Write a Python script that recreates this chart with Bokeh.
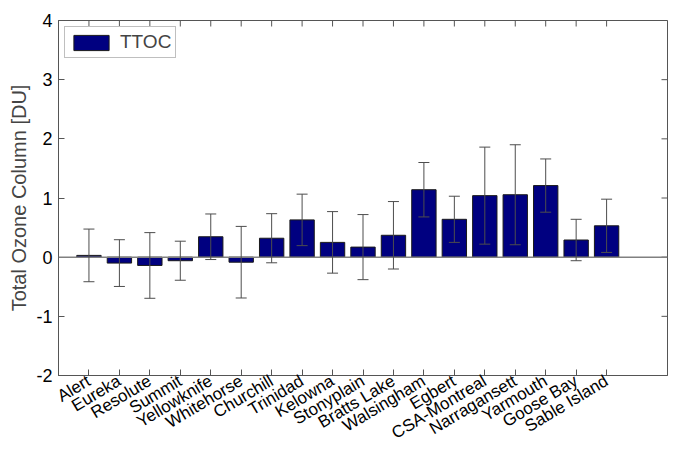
import math
from bokeh.plotting import figure
from bokeh.models import (ColumnDataSource, Whisker, TeeHead, Span, FixedTicker,
                          Range1d)
from bokeh.embed import file_html
from bokeh.resources import INLINE

stations = ["Alert", "Eureka", "Resolute", "Summit", "Yellowknife", "Whitehorse",
            "Churchill", "Trinidad", "Kelowna", "Stonyplain", "Bratts Lake",
            "Walsingham", "Egbert", "CSA-Montreal", "Narragansett", "Yarmouth",
            "Goose Bay", "Sable Island"]
ttoc = [0.03, -0.10, -0.14, -0.06, 0.345, -0.085, 0.32, 0.63, 0.25, 0.17, 0.37,
        1.14, 0.64, 1.04, 1.055, 1.21, 0.29, 0.53]
err = [0.445, 0.395, 0.555, 0.33, 0.385, 0.605, 0.415, 0.435, 0.52, 0.55, 0.57,
       0.46, 0.39, 0.82, 0.845, 0.45, 0.35, 0.45]
y_ticks = [-2, -1, 0, 1, 2, 3, 4]
x_lim = [0, 20]

xpos = list(range(1, len(stations) + 1))
src = ColumnDataSource(dict(
    x=xpos, top=ttoc,
    upper=[v + e for v, e in zip(ttoc, err)],
    lower=[v - e for v, e in zip(ttoc, err)],
    ytop=[y_ticks[-1]] * len(xpos),
))
rsrc = ColumnDataSource(dict(x=[x_lim[1]] * len(y_ticks), y=y_ticks))

FONT = "Liberation Sans"
AX = "#555555"

p = figure(width=668, height=453, output_backend="svg", toolbar_location=None,
           x_range=Range1d(*x_lim), y_range=Range1d(y_ticks[0], y_ticks[-1]),
           min_border_left=58, min_border_right=1, min_border_top=20,
           min_border_bottom=40)
p.grid.visible = False
p.outline_line_color = AX

p.vbar(x="x", top="top", bottom=0, width=0.8, source=src,
       fill_color="#000080", line_color="#1a1a1a", line_width=1,
       legend_label="TTOC")

p.add_layout(Span(location=0, dimension="width", line_color="#808080",
                  line_width=1.5))

wh = Whisker(base="x", upper="upper", lower="lower", source=src,
             line_color="#4d4d4d", line_width=1, level="overlay",
             upper_head=TeeHead(size=11, line_color="#4d4d4d", line_width=1),
             lower_head=TeeHead(size=11, line_color="#4d4d4d", line_width=1))
p.add_layout(wh)

# inward ticks on the top and right edges (box axes)
p.scatter(x="x", y="ytop", source=src, marker="dash", angle=math.pi / 2,
          size=12, line_color=AX, line_width=1)
p.scatter(x="x", y="y", source=rsrc, marker="dash", size=12,
          line_color=AX, line_width=1)

xa = p.xaxis[0]
xa.ticker = FixedTicker(ticks=xpos)
xa.major_label_overrides = {i: s for i, s in zip(xpos, stations)}
xa.major_label_orientation = math.radians(31)
xa.major_label_text_font = FONT
xa.major_label_text_font_size = "17px"
xa.major_label_text_color = "black"
xa.major_label_standoff = 4

ya = p.yaxis[0]
ya.ticker = FixedTicker(ticks=y_ticks)
ya.major_label_overrides = {t: str(t) for t in y_ticks}
ya.axis_label = "Total Ozone Column [DU]"
ya.axis_label_text_font = FONT
ya.axis_label_text_font_size = "20px"
ya.axis_label_text_font_style = "normal"
ya.axis_label_standoff = 3
ya.major_label_text_font = FONT
ya.major_label_text_font_size = "18px"
ya.major_label_text_color = "black"
ya.major_label_standoff = 6

for ax in (xa, ya):
    ax.axis_line_color = AX
    ax.major_tick_line_color = AX
    ax.major_tick_in = 6
    ax.major_tick_out = 0
    ax.minor_tick_line_color = None

lg = p.legend[0]
lg.location = "top_left"
lg.margin = 6
lg.padding = 4
lg.glyph_width = 44
lg.glyph_height = 19
lg.label_standoff = 7
lg.label_text_font = FONT
lg.label_text_font_size = "19px"
lg.border_line_color = "#808080"
lg.border_line_width = 1
lg.background_fill_alpha = 1

open("out.html", "w").write(file_html(p, INLINE))
